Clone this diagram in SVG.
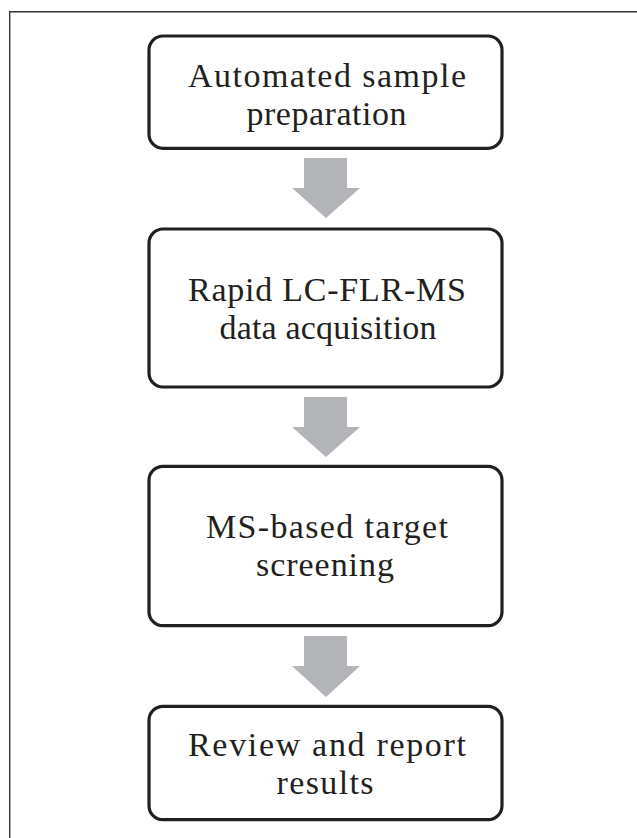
<svg xmlns="http://www.w3.org/2000/svg" width="637" height="838" viewBox="0 0 637 838">
<defs>
<style>
.frame{fill:none;stroke:#333333;stroke-width:1.4}
.box{fill:#ffffff;stroke:#231f20;stroke-width:3.2}
.lbl{font-family:"Liberation Serif","Times New Roman",serif;font-size:34px;fill:#231f20;text-anchor:middle}
.arr{fill:#b2b4b7;stroke:none}
</style>
</defs>
<rect width="637" height="838" fill="#ffffff"/>
<path class="frame" d="M9.7,838 V11.7 H637"/>
<g id="connectors">
<path class="arr" d="M304,158 H347 V188 H360 L326,218 L292,188 H304 Z"/>
<path class="arr" d="M304,397 H347 V427 H360 L326,457 L292,427 H304 Z"/>
<path class="arr" d="M304,636 H347 V666 H360 L326,697 L292,666 H304 Z"/>
</g>
<g id="node1">
<rect class="box" x="149" y="36" width="353" height="112.3" rx="14"/>
<text class="lbl"><tspan x="327" y="87" textLength="278">Automated sample</tspan><tspan x="326.5" y="125" textLength="160">preparation</tspan></text>
</g>
<g id="node2">
<rect class="box" x="149" y="229" width="353" height="158" rx="14"/>
<text class="lbl"><tspan x="327" y="301" textLength="278">Rapid LC-FLR-MS</tspan><tspan x="328" y="339" textLength="217">data acquisition</tspan></text>
</g>
<g id="node3">
<rect class="box" x="149" y="466.3" width="353" height="159.4" rx="14"/>
<text class="lbl"><tspan x="327" y="538" textLength="242">MS-based target</tspan><tspan x="325" y="576" textLength="138">screening</tspan></text>
</g>
<g id="node4">
<rect class="box" x="149" y="706.3" width="353" height="113.4" rx="14"/>
<text class="lbl"><tspan x="327" y="756" textLength="278">Review and report</tspan><tspan x="325" y="794" textLength="97">results</tspan></text>
</g>
</svg>
